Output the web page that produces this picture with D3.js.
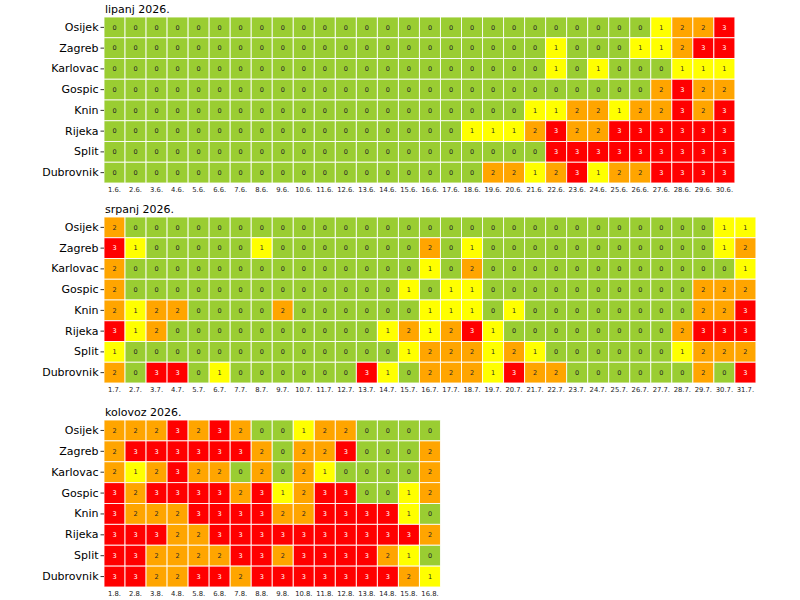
<!DOCTYPE html>
<html>
<head>
<meta charset="utf-8">
<script src="https://cdn.jsdelivr.net/npm/d3@7"></script>
<style>
  html, body { margin: 0; padding: 0; background: #fff; }
  svg { display: block; font-family: "DejaVu Sans", sans-serif; }
</style>
</head>
<body>
<svg id="chart" width="800" height="600"></svg>
<script>
const cities = ["Osijek", "Zagreb", "Karlovac", "Gospic", "Knin", "Rijeka", "Split", "Dubrovnik"];

const juneTitle = "lipanj 2026.";
const julyTitle = "srpanj 2026.";
const augustTitle = "kolovoz 2026.";

const juneDays = d3.range(1, 31).map(d => d + ".6.");
const julyDays = d3.range(1, 32).map(d => d + ".7.");
const augustDays = d3.range(1, 17).map(d => d + ".8.");

const juneValues = [
  [0,0,0,0,0,0,0,0,0,0,0,0,0,0, 0,0,0,0,0,0,0,0,0,0,0,0,1,2,2,3],
  [0,0,0,0,0,0,0,0,0,0,0,0,0,0, 0,0,0,0,0,0,0,1,0,0,0,1,1,2,3,3],
  [0,0,0,0,0,0,0,0,0,0,0,0,0,0, 0,0,0,0,0,0,0,1,0,1,0,0,0,1,1,1],
  [0,0,0,0,0,0,0,0,0,0,0,0,0,0, 0,0,0,0,0,0,0,0,0,0,0,0,2,3,2,2],
  [0,0,0,0,0,0,0,0,0,0,0,0,0,0, 0,0,0,0,0,0,1,1,2,2,1,2,2,3,2,3],
  [0,0,0,0,0,0,0,0,0,0,0,0,0,0, 0,0,0,1,1,1,2,3,2,2,3,3,3,3,3,3],
  [0,0,0,0,0,0,0,0,0,0,0,0,0,0, 0,0,0,0,0,0,0,3,3,3,3,3,3,3,3,3],
  [0,0,0,0,0,0,0,0,0,0,0,0,0,0, 0,0,0,0,2,2,1,2,3,1,2,2,3,3,3,3]
];

const julyValues = [
  [2,0,0,0,0,0,0,0,0,0,0,0,0,0, 0,0,0,0,0,0,0,0,0,0,0,0,0,0,0,1,1],
  [3,1,0,0,0,0,0,1,0,0,0,0,0,0, 0,2,0,1,0,0,0,0,0,0,0,0,0,0,0,1,2],
  [2,0,0,0,0,0,0,0,0,0,0,0,0,0, 0,1,0,2,0,0,0,0,0,0,0,0,0,0,0,0,1],
  [2,0,0,0,0,0,0,0,0,0,0,0,0,0, 1,0,1,1,0,0,0,0,0,0,0,0,0,0,2,2,2],
  [2,1,2,2,0,0,0,0,2,0,0,0,0,0, 0,1,1,1,0,1,0,0,0,0,0,0,0,0,2,2,3],
  [3,1,2,0,0,0,0,0,0,0,0,0,0,1, 2,1,2,3,1,0,0,0,0,0,0,0,0,2,3,3,3],
  [1,0,0,0,0,0,0,0,0,0,0,0,0,0, 1,2,2,2,1,2,1,0,0,0,0,0,0,1,2,2,2],
  [2,0,3,3,0,1,0,0,0,0,0,0,3,1, 0,2,2,2,1,3,2,2,0,0,0,0,0,0,2,0,3]
];

const augustValues = [
  [2,2,2,3,2,3,2,0,0,1,2,2,0,0,0,0],
  [2,3,3,3,3,3,3,2,0,2,2,3,0,0,0,2],
  [2,1,2,3,2,2,0,2,0,2,1,0,0,0,0,2],
  [3,2,3,3,3,3,2,3,1,2,3,3,0,0,1,2],
  [3,2,2,2,3,3,3,3,2,2,3,3,3,3,1,0],
  [3,3,3,2,2,3,3,3,3,3,3,3,3,3,3,2],
  [3,3,2,2,2,2,3,3,2,3,3,3,3,2,1,0],
  [3,3,2,2,3,3,2,3,3,3,3,3,3,3,2,1]
];

const levels = [0, 1, 2, 3];
const levelColors = ["#9acd32", "#ffff00", "#ffa500", "#ff0000"];
const levelText = ["#262626", "#262626", "#262626", "#ffffff"];

const color = d3.scaleOrdinal().domain(levels).range(levelColors);
const textColor = d3.scaleOrdinal().domain(levels).range(levelText);

const svg = d3.select("#chart");
const cell = 21.03;
const left = 104;

const panels = [
  { title: juneTitle, days: juneDays, values: juneValues, top: 17, h: 166 },
  { title: julyTitle, days: julyDays, values: julyValues, top: 217, h: 166 },
  { title: augustTitle, days: augustDays, values: augustValues, top: 420, h: 167 }
];

panels.forEach(p => {
  const x = d3.scaleBand().domain(p.days).range([left, left + cell * p.days.length]);
  const y = d3.scaleBand().domain(cities).range([p.top, p.top + p.h]);
  const g = svg.append("g");

  const cells = [];
  p.values.forEach((row, ri) => row.forEach((v, ci) => cells.push({ city: cities[ri], day: p.days[ci], v })));

  g.selectAll("rect.cell").data(cells).join("rect")
    .attr("class", "cell")
    .attr("x", d => x(d.day))
    .attr("y", d => y(d.city))
    .attr("width", x.bandwidth())
    .attr("height", y.bandwidth())
    .attr("fill", d => color(d.v))
    .attr("stroke", "#ffffff")
    .attr("stroke-opacity", 0.85)
    .attr("stroke-width", 1);

  g.selectAll("text.val").data(cells).join("text")
    .attr("class", "val")
    .attr("x", d => x(d.day) + x.bandwidth() / 2)
    .attr("y", d => y(d.city) + y.bandwidth() / 2)
    .attr("dy", "0.35em")
    .attr("text-anchor", "middle")
    .attr("font-size", 6.5)
    .attr("fill", d => textColor(d.v))
    .text(d => d.v);

  const yAxis = d3.axisLeft(y).tickSize(3.5).tickPadding(2);
  const ya = g.append("g").attr("transform", `translate(${left},0)`).call(yAxis);
  ya.select(".domain").remove();
  ya.selectAll(".tick line").attr("stroke", "#000").attr("stroke-width", 0.8);
  ya.selectAll(".tick text").attr("font-size", 11).attr("fill", "#000").attr("font-family", "DejaVu Sans");

  const xAxis = d3.axisBottom(x).tickSize(0).tickPadding(4);
  const xa = g.append("g").attr("transform", `translate(0,${p.top + p.h})`).call(xAxis);
  xa.select(".domain").remove();
  xa.selectAll(".tick text").attr("font-size", 6.8).attr("fill", "#222").attr("font-family", "DejaVu Sans");

  g.append("text")
    .attr("x", left + 1)
    .attr("y", p.top - 4)
    .attr("font-size", 11)
    .attr("fill", "#000")
    .text(p.title);
});
</script>
</body>
</html>
